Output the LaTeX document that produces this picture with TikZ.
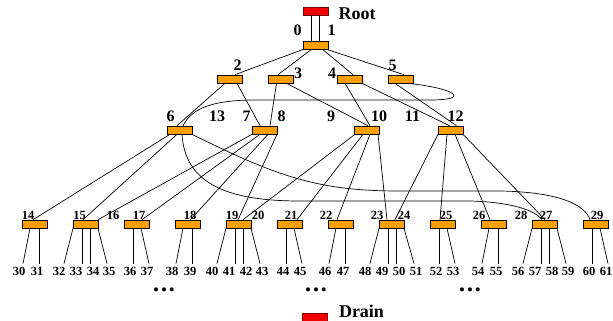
\documentclass[tikz,border=0pt]{standalone}
\usepackage{fontspec}
\setmainfont{Liberation Serif}
\usepackage{tikz}
\usetikzlibrary{positioning}
\definecolor{swfill}{RGB}{255,160,0}
\definecolor{termfill}{RGB}{240,0,0}

\begin{document}
\begin{tikzpicture}[x=1pt,y=-1pt,font=\bfseries,
                block/.style={rectangle, draw, line width=0.6pt, fill=swfill, minimum width=25pt, minimum height=8pt, inner sep=0pt},
                term/.style={rectangle, draw=red!50!black, line width=0.6pt, fill=termfill, minimum width=25pt, minimum height=8pt, inner sep=0pt},
                title/.style={font=\fontsize{18}{20}\selectfont\bfseries, inner sep=0pt},
                lbl/.style={font=\fontsize{16}{18}\selectfont\bfseries, inner sep=0pt},
                small/.style={font=\fontsize{12.5}{14}\selectfont\bfseries, inner sep=0pt},
                leaf/.style={font=\fontsize{12.5}{14}\selectfont\bfseries, inner sep=3pt},
                dots/.style={font=\fontsize{17}{18}\selectfont, inner sep=0pt},
                wire/.style={draw, line width=0.7pt},
            ]
            \useasboundingbox (0,0) rectangle (613,321);
            % root and drain
            \node[term] (root) at (315.5,11) {};
            \node[title, right=10pt of root, yshift=-3pt] (rootlbl) {Root};
            \node[term] (drain) at (315,317) {};
            \node[title, right=11pt of drain, yshift=5.5pt] (drainlbl) {Drain};
            % switches
            \node[block] (sw) at (315.5,45) {};
            \node[block] (p1) at (230,79) {};
            \node[block] (p2) at (280.5,79) {};
            \node[block] (p3) at (349.5,79) {};
            \node[block] (p4) at (400.5,79) {};
            \node[block] (q1) at (179.5,130) {};
            \node[block] (q2) at (264.5,130) {};
            \node[block] (q3) at (366.5,130) {};
            \node[block] (q4) at (450.5,130) {};
            \foreach \i in {1,...,12}
                \node[block] (t\i) at ({51*\i-16.5},224) {};
            % leaf labels
            \foreach \n/\x in {30/19,31/37,32/59,33/76,34/93,35/109,36/130,37/147,38/172,39/190,
                               40/212,41/229,42/246,43/262,44/283,45/300,46/325,47/343,48/365,49/382,
                               50/399,51/416,52/436,53/453,54/478,55/496,56/518,57/535,58/552,59/568,
                               60/589,61/606}
                \node[leaf] (o\n) at (\x,271) {\n};
            \node[dots] (d1) at (164,292) {\textbullet\hspace{2pt}\textbullet\hspace{2pt}\textbullet};
            \node[dots] (d2) at (316,292) {\textbullet\hspace{2pt}\textbullet\hspace{2pt}\textbullet};
            \node[dots] (d3) at (470,292) {\textbullet\hspace{2pt}\textbullet\hspace{2pt}\textbullet};
            % links 0-5
            \path[wire] ([xshift=-4.5pt]root.south) -- ([xshift=-4.5pt]sw.north);
            \path[wire] ([xshift=3.5pt]root.south) -- ([xshift=3.5pt]sw.north);
            \path[wire] ([xshift=-12pt]sw.south) -- ([xshift=5pt]p1.north);
            \path[wire] ([xshift=-4pt]sw.south) -- ([xshift=-2.5pt]p2.north);
            \path[wire] ([xshift=7pt]sw.south) -- ([xshift=3.5pt]p3.north);
            \path[wire] ([xshift=11pt]sw.south) -- ([xshift=3.5pt]p4.north);
            % links 6-13
            \foreach \s/\a/\t/\b in {p1/-5/q1/-2.5, p1/7/q2/-4.5, p2/-4/q2/5.5, p2/6/q3/1.5,
                                     p3/-4.5/q3/3.5, p3/12.5/q4/-1, p4/-5.5/q4/6}
                \path[wire] ([xshift=\a pt]\s.south) -- ([xshift=\b pt]\t.north);
            \path[wire] ([xshift=6.5pt]p4.south) .. controls (455,88) and (472,100) .. (430,100)
                -- (255,100) .. controls (205,100) and (190,112) .. ([xshift=3.5pt]q1.north);
            % links 14-29
            \foreach \s/\a/\t/\b in {q1/-9.5/t1/-1.5, q1/-2.5/t2/-2.5,
                                     q2/-12.5/t2/12.5, q2/-4.5/t3/5.5, q2/3.5/t4/3, q2/12.5/t5/-0.5,
                                     q3/-11.5/t5/4.5, q3/-3.5/t6/7.5, q3/3.5/t7/-3.5, q3/11.5/t8/-4.5,
                                     q4/-12.5/t8/3.5, q4/-3.5/t9/-2.5, q4/4.5/t10/-3.5, q4/12.5/t11/0.5}
                \path[wire] ([xshift=\a pt]\s.south) -- ([xshift=\b pt]\t.north);
            \path[wire] ([xshift=2.5pt]q1.south) .. controls (185,185) and (230,201) .. (300,201)
                -- (470,201) .. controls (510,202) and (535,210) .. ([xshift=-2.5pt]t11.north);
            \path[wire] ([xshift=12.5pt]q1.south) .. controls (280,178) and (320,191) .. (400,191)
                -- (500,191) .. controls (560,192) and (585,205) .. ([xshift=-5.5pt]t12.north);
            % links 30-61
            \foreach \t/\n in {t1/30, t4/38, t7/46, t10/54} {
                \pgfmathtruncatemacro\m{\n+1}
                \path[wire] ([xshift=-4.5pt]\t.south) -- ([xshift=4pt]o\n.north);
                \path[wire] ([xshift=4.5pt]\t.south) -- ([xshift=2pt]o\m.north);
            }
            \foreach \t/\n in {t3/36, t6/44, t9/52, t12/60} {
                \pgfmathtruncatemacro\m{\n+1}
                \path[wire] ([xshift=-3.5pt]\t.south) -- ([xshift=3pt]o\n.north);
                \path[wire] ([xshift=4.5pt]\t.south) -- ([xshift=2pt]o\m.north);
            }
            \foreach \t/\n in {t2/32, t5/40, t8/48, t11/56} {
                \pgfmathtruncatemacro\m{\n+1}
                \pgfmathtruncatemacro\k{\n+2}
                \pgfmathtruncatemacro\l{\n+3}
                \path[wire] ([xshift=-12.5pt]\t.south) -- ([xshift=5pt]o\n.north);
                \path[wire] ([xshift=-3.5pt]\t.south) -- ([xshift=6pt]o\m.north);
                \path[wire] ([xshift=4.5pt]\t.south) -- ([xshift=-3pt]o\k.north);
                \path[wire] ([xshift=12.5pt]\t.south) -- ([xshift=-2pt]o\l.north);
            }
            % link numbers
            \node[lbl] (n0) at (297.5,30) {0};
            \node[lbl] (n1) at (331.5,30) {1};
            \node[lbl] (n2) at (237.5,65) {2};
            \node[lbl] (n3) at (298,73) {3};
            \node[lbl] (n4) at (332,73) {4};
            \node[lbl] (n5) at (392.5,65) {5};
            \foreach \n/\x in {6/170.5,13/217,7/246.5,8/281.5,9/331,10/379,11/412.5,12/455.5}
                \node[lbl] (n\n) at (\x,116) {\n};
            \foreach \n/\x in {14/28,15/79.5,16/113,17/139,18/190,19/232,20/258,21/291,
                               22/326,23/377,24/404,25/446,26/479,28/521,27/546,29/597}
                \node[small] (n\n) at (\x,215.5) {\n};
            \end{tikzpicture}
\end{document}
